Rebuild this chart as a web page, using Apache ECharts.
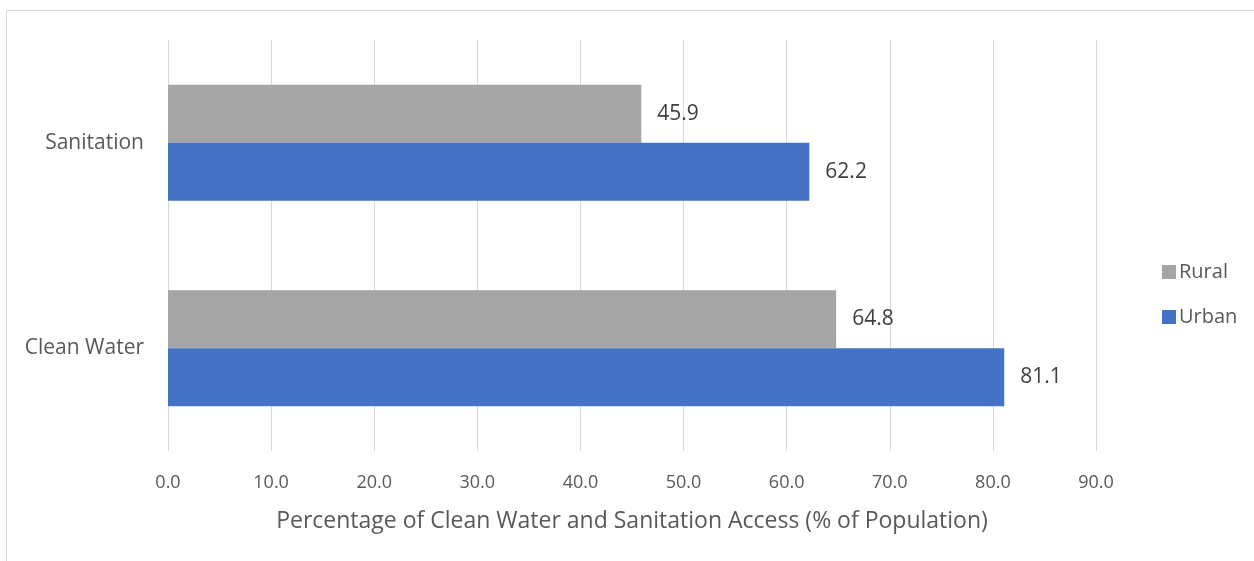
<!DOCTYPE html>
<html>
<head>
<meta charset="utf-8">
<title>Clean Water and Sanitation Access</title>
<script src="https://cdn.jsdelivr.net/npm/echarts@6/dist/echarts.min.js"></script>
<style>
  html, body { margin: 0; padding: 0; background: #ffffff; }
  #chart { width: 1254px; height: 561px; }
</style>
</head>
<body>
<div id="chart"></div>
<script>
// Access categories, bottom to top on the vertical axis
const categories = ['Clean Water', 'Sanitation'];
// Share of population with access (%)
const ruralValues = [64.8, 45.9];
const urbanValues = [81.1, 62.2];
const seriesNames = ['Rural', 'Urban'];
const axisTitle = 'Percentage of Clean Water and Sanitation Access (% of Population)';

const FONT = '"Open Sans", "Noto Sans", sans-serif';
const chart = echarts.init(document.getElementById('chart'), null, { renderer: 'canvas' });

const labelStyle = {
  show: true,
  position: 'right',
  distance: 16,
  color: '#404040',
  fontFamily: FONT,
  fontSize: 21,
  formatter: p => p.value.toFixed(1)
};

chart.setOption({
  animation: false,
  backgroundColor: '#ffffff',
  graphic: [{
    type: 'rect',
    shape: { x: 6.5, y: 10.5, width: 1300, height: 600 },
    style: { fill: 'none', stroke: '#d9d9d9', lineWidth: 1 },
    silent: true,
    z: -1
  }],
  grid: { left: 168, right: 158, top: 40, bottom: 110, containLabel: false },
  legend: {
    orient: 'vertical',
    left: 1157,
    top: 257,
    data: seriesNames,
    icon: 'rect',
    itemWidth: 14,
    itemHeight: 14,
    itemGap: 25,
    textStyle: { color: '#595959', fontFamily: FONT, fontSize: 20, padding: [0, 0, 0, -2] }
  },
  xAxis: {
    type: 'value',
    min: 0,
    max: 90,
    interval: 10,
    name: axisTitle,
    nameLocation: 'middle',
    nameGap: 59,
    nameTextStyle: { color: '#595959', fontFamily: FONT, fontSize: 23 },
    axisLine: { show: false },
    axisTick: { show: false },
    axisLabel: {
      color: '#595959',
      fontFamily: FONT,
      fontSize: 18,
      margin: 23,
      formatter: v => v.toFixed(1)
    },
    splitLine: { show: true, lineStyle: { color: '#d9d9d9', width: 1 } }
  },
  yAxis: {
    type: 'category',
    data: categories,
    axisLine: { show: false },
    axisTick: { show: false },
    axisLabel: { color: '#595959', fontFamily: FONT, fontSize: 21, margin: 24 },
    splitLine: { show: false }
  },
  series: [
    {
      name: seriesNames[0],
      type: 'bar',
      data: ruralValues,
      itemStyle: { color: '#a5a5a5' },
      barGap: '0%',
      barCategoryGap: '43.5%',
      label: labelStyle
    },
    {
      name: seriesNames[1],
      type: 'bar',
      data: urbanValues,
      itemStyle: { color: '#4472c4' },
      barGap: '0%',
      barCategoryGap: '43.5%',
      label: labelStyle
    }
  ]
});
</script>
</body>
</html>
